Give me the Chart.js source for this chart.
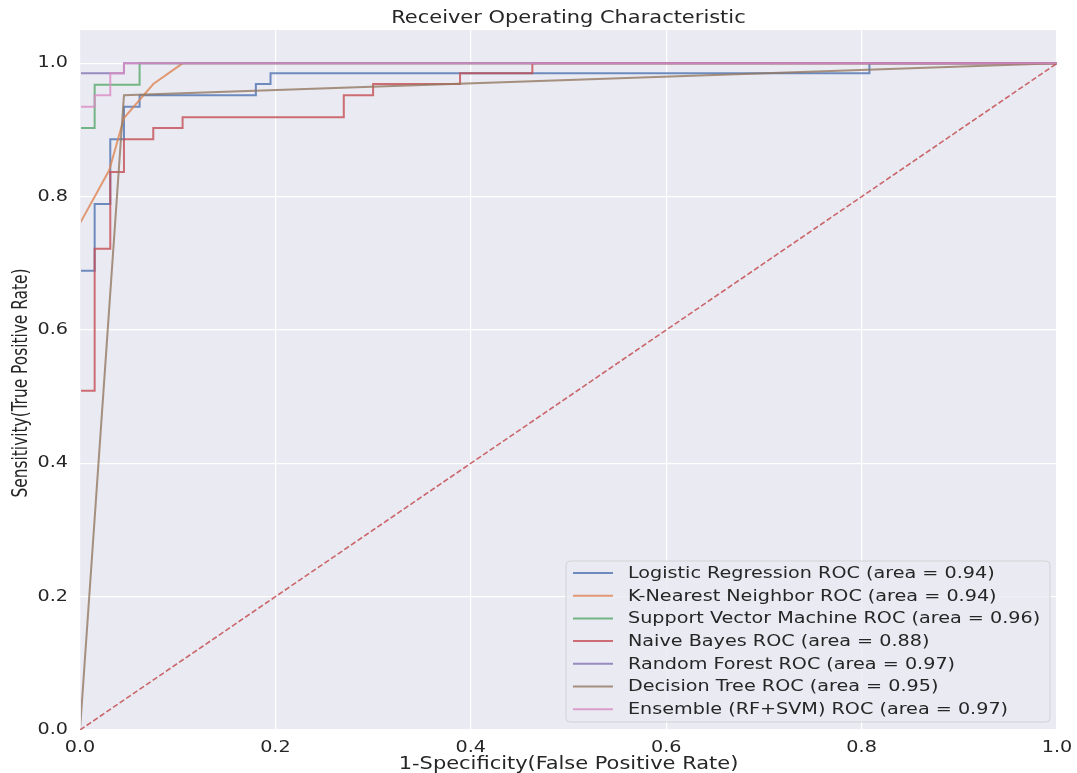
<!DOCTYPE html>
<html lang="en">
<head>
    <meta charset="UTF-8">
    <title>Receiver Operating Characteristic</title>
    <style>
        html, body { margin: 0; padding: 0; background: #ffffff; }
        #wrap { width: 1077px; height: 773px; }
    </style>
    <script src="https://cdn.jsdelivr.net/npm/chart.js"></script>
</head>
<body>
    <div id="wrap"><canvas id="rocChart" width="1077" height="773"></canvas></div>
    <script>
        // ROC points (fpr, tpr)
        const lrFpr = [0, 0, 0.015, 0.015, 0.031, 0.031, 0.045, 0.045, 0.061, 0.061, 0.180, 0.180, 0.195, 0.195, 0.808, 0.808, 1];
        const lrTpr = [0, 0.689, 0.689, 0.789, 0.789, 0.886, 0.886, 0.935, 0.935, 0.952, 0.952, 0.969, 0.969, 0.985, 0.985, 1, 1];

        const knnFpr = [0, 0, 0.030, 0.045, 0.075, 0.105, 1];
        const knnTpr = [0, 0.760, 0.840, 0.918, 0.969, 1, 1];

        const svmFpr = [0, 0, 0.015, 0.015, 0.061, 0.061, 1];
        const svmTpr = [0, 0.903, 0.903, 0.968, 0.968, 1, 1];

        const nbFpr = [0, 0, 0.015, 0.015, 0.031, 0.031, 0.045, 0.045, 0.075, 0.075, 0.105, 0.105, 0.270, 0.270, 0.300, 0.300, 0.389, 0.389, 0.463, 0.463, 1];
        const nbTpr = [0, 0.509, 0.509, 0.722, 0.722, 0.837, 0.837, 0.886, 0.886, 0.903, 0.903, 0.919, 0.919, 0.952, 0.952, 0.969, 0.969, 0.985, 0.985, 1, 1];

        const rfFpr = [0, 0, 0.045, 0.045, 1];
        const rfTpr = [0, 0.985, 0.985, 1, 1];

        const dtFpr = [0, 0.045, 1];
        const dtTpr = [0, 0.952, 1];

        const ensFpr = [0, 0, 0.015, 0.015, 0.031, 0.031, 0.045, 0.045, 1];
        const ensTpr = [0, 0.935, 0.935, 0.952, 0.952, 0.985, 0.985, 1, 1];

        const chanceFpr = [0, 1];
        const chanceTpr = [0, 1];

        const modelNames = ['Logistic Regression', 'K-Nearest Neighbor', 'Support Vector Machine',
            'Naive Bayes', 'Random Forest', 'Decision Tree', 'Ensemble (RF+SVM)'];
        const modelAreas = [0.94, 0.94, 0.96, 0.88, 0.97, 0.95, 0.97];
        const modelFpr = [lrFpr, knnFpr, svmFpr, nbFpr, rfFpr, dtFpr, ensFpr];
        const modelTpr = [lrTpr, knnTpr, svmTpr, nbTpr, rfTpr, dtTpr, ensTpr];
        const modelColors = ['#4C72B0', '#DD8452', '#55A868', '#C44E52', '#8172B3', '#937860', '#DA8BC3'];

        const tickValues = [0, 0.2, 0.4, 0.6, 0.8, 1.0];

        const titleText = 'Receiver Operating Characteristic';
        const xTitleText = '1-Specificity(False Positive Rate)';
        const yTitleText = 'Sensitivity(True Positive Rate)';

        // the picture is stretched sideways, so text is drawn stretched too
        const SX = 1.37, SY = 1.07;
        const TEXT = '#262626';
        const NARROW = '"DejaVu Sans Condensed", "Liberation Sans Narrow", "DejaVu Sans"';

        function toPoints(xs, ys) {
            return xs.map((x, i) => ({ x: x, y: ys[i] }));
        }

        function withAlpha(hex, a) {
            const n = parseInt(hex.slice(1), 16);
            return `rgba(${(n >> 16) & 255}, ${(n >> 8) & 255}, ${n & 255}, ${a})`;
        }

        function stretchedText(ctx, text, x, y, align, sx, sy) {
            ctx.save();
            ctx.translate(x, y);
            ctx.scale(sx, sy);
            ctx.textAlign = align;
            ctx.fillText(text, 0, 0);
            ctx.restore();
        }

        const datasets = modelNames.map((name, i) => ({
            label: `${name} ROC (area = ${modelAreas[i].toFixed(2)})`,
            data: toPoints(modelFpr[i], modelTpr[i]),
            borderColor: withAlpha(modelColors[i], 0.8),
            borderWidth: 2,
            pointRadius: 0,
            fill: false,
            tension: 0,
            clip: { left: -1, top: 0, right: 0, bottom: 0 },
            order: 20 - i
        }));
        datasets.push({
            label: 'chance',
            data: toPoints(chanceFpr, chanceTpr),
            borderColor: withAlpha('#C44E52', 0.85),
            borderWidth: 1.6,
            borderDash: [5.5, 2.5],
            pointRadius: 0,
            fill: false,
            order: 1
        });

        const plotBackground = {
            id: 'plotBackground',
            beforeDraw(chart) {
                const { ctx, chartArea: a } = chart;
                ctx.save();
                ctx.fillStyle = '#EAEAF2';
                ctx.fillRect(a.left, a.top, a.right - a.left, a.bottom - a.top);
                ctx.restore();
            }
        };

        // title, axis titles and tick labels
        const axisText = {
            id: 'axisText',
            afterDraw(chart) {
                const { ctx, chartArea: a } = chart;
                const xs = chart.scales.x, ys = chart.scales.y;
                const cx = (a.left + a.right) / 2;
                ctx.save();
                ctx.fillStyle = TEXT;
                ctx.textBaseline = 'middle';

                ctx.font = `17px ${NARROW}`;
                stretchedText(ctx, titleText, cx, 18, 'center', SX, SY);
                stretchedText(ctx, xTitleText, cx, 764, 'center', SX, SY);

                ctx.save();
                ctx.translate(21, (a.top + a.bottom) / 2 + 3);
                ctx.rotate(-Math.PI / 2);
                ctx.font = `16px ${NARROW}`;
                stretchedText(ctx, yTitleText, 0, 0, 'center', SY, SX);
                ctx.restore();

                ctx.font = '14px "DejaVu Sans"';
                tickValues.forEach(v => {
                    stretchedText(ctx, v.toFixed(1), xs.getPixelForValue(v), a.bottom + 18, 'center', SX, SY);
                    stretchedText(ctx, v.toFixed(1), a.left - 12, ys.getPixelForValue(v), 'right', SX, SY);
                });
                ctx.restore();
            }
        };

        const innerLegend = {
            id: 'innerLegend',
            afterDraw(chart) {
                const { ctx, chartArea: a } = chart;
                const items = chart.data.datasets.slice(0, modelNames.length);
                const rowH = 22.7;
                const boxW = 484, boxH = 161;
                const x0 = a.right - 7 - boxW, y0 = a.bottom - 8 - boxH;
                ctx.save();
                ctx.beginPath();
                ctx.roundRect(x0, y0, boxW, boxH, 4);
                ctx.fillStyle = 'rgba(234, 234, 242, 0.8)';
                ctx.fill();
                ctx.strokeStyle = 'rgba(204, 204, 204, 0.8)';
                ctx.lineWidth = 1;
                ctx.stroke();
                ctx.font = '14px "DejaVu Sans"';
                ctx.textBaseline = 'middle';
                items.forEach((ds, i) => {
                    const y = y0 + 12 + i * rowH;
                    ctx.beginPath();
                    ctx.moveTo(x0 + 7, y);
                    ctx.lineTo(x0 + 47, y);
                    ctx.strokeStyle = ds.borderColor;
                    ctx.lineWidth = 2;
                    ctx.stroke();
                    ctx.fillStyle = TEXT;
                    stretchedText(ctx, ds.label, x0 + 62, y + 1, 'left', SX, SY);
                });
                ctx.restore();
            }
        };

        const ctx = document.getElementById('rocChart').getContext('2d');
        const rocChart = new Chart(ctx, {
            type: 'line',
            data: { datasets: datasets },
            options: {
                responsive: false,
                animation: false,
                layout: { padding: { left: 0, right: 20, top: 30, bottom: 0 } },
                plugins: {
                    legend: { display: false },
                    tooltip: { enabled: false },
                    title: { display: false }
                },
                scales: {
                    x: {
                        type: 'linear',
                        min: 0,
                        max: 1,
                        afterBuildTicks: axis => { axis.ticks = tickValues.map(v => ({ value: v })); },
                        afterFit: scale => { scale.height = 43; },
                        grid: { color: '#ffffff', lineWidth: 1.2, drawTicks: false },
                        border: { display: false },
                        ticks: { display: false }
                    },
                    y: {
                        type: 'linear',
                        min: 0,
                        max: 1.05,
                        afterBuildTicks: axis => { axis.ticks = tickValues.map(v => ({ value: v })); },
                        afterFit: scale => { scale.width = 80; },
                        grid: { color: '#ffffff', lineWidth: 1.2, drawTicks: false },
                        border: { display: false },
                        ticks: { display: false }
                    }
                }
            },
            plugins: [plotBackground, axisText, innerLegend]
        });
    </script>
</body>
</html>
